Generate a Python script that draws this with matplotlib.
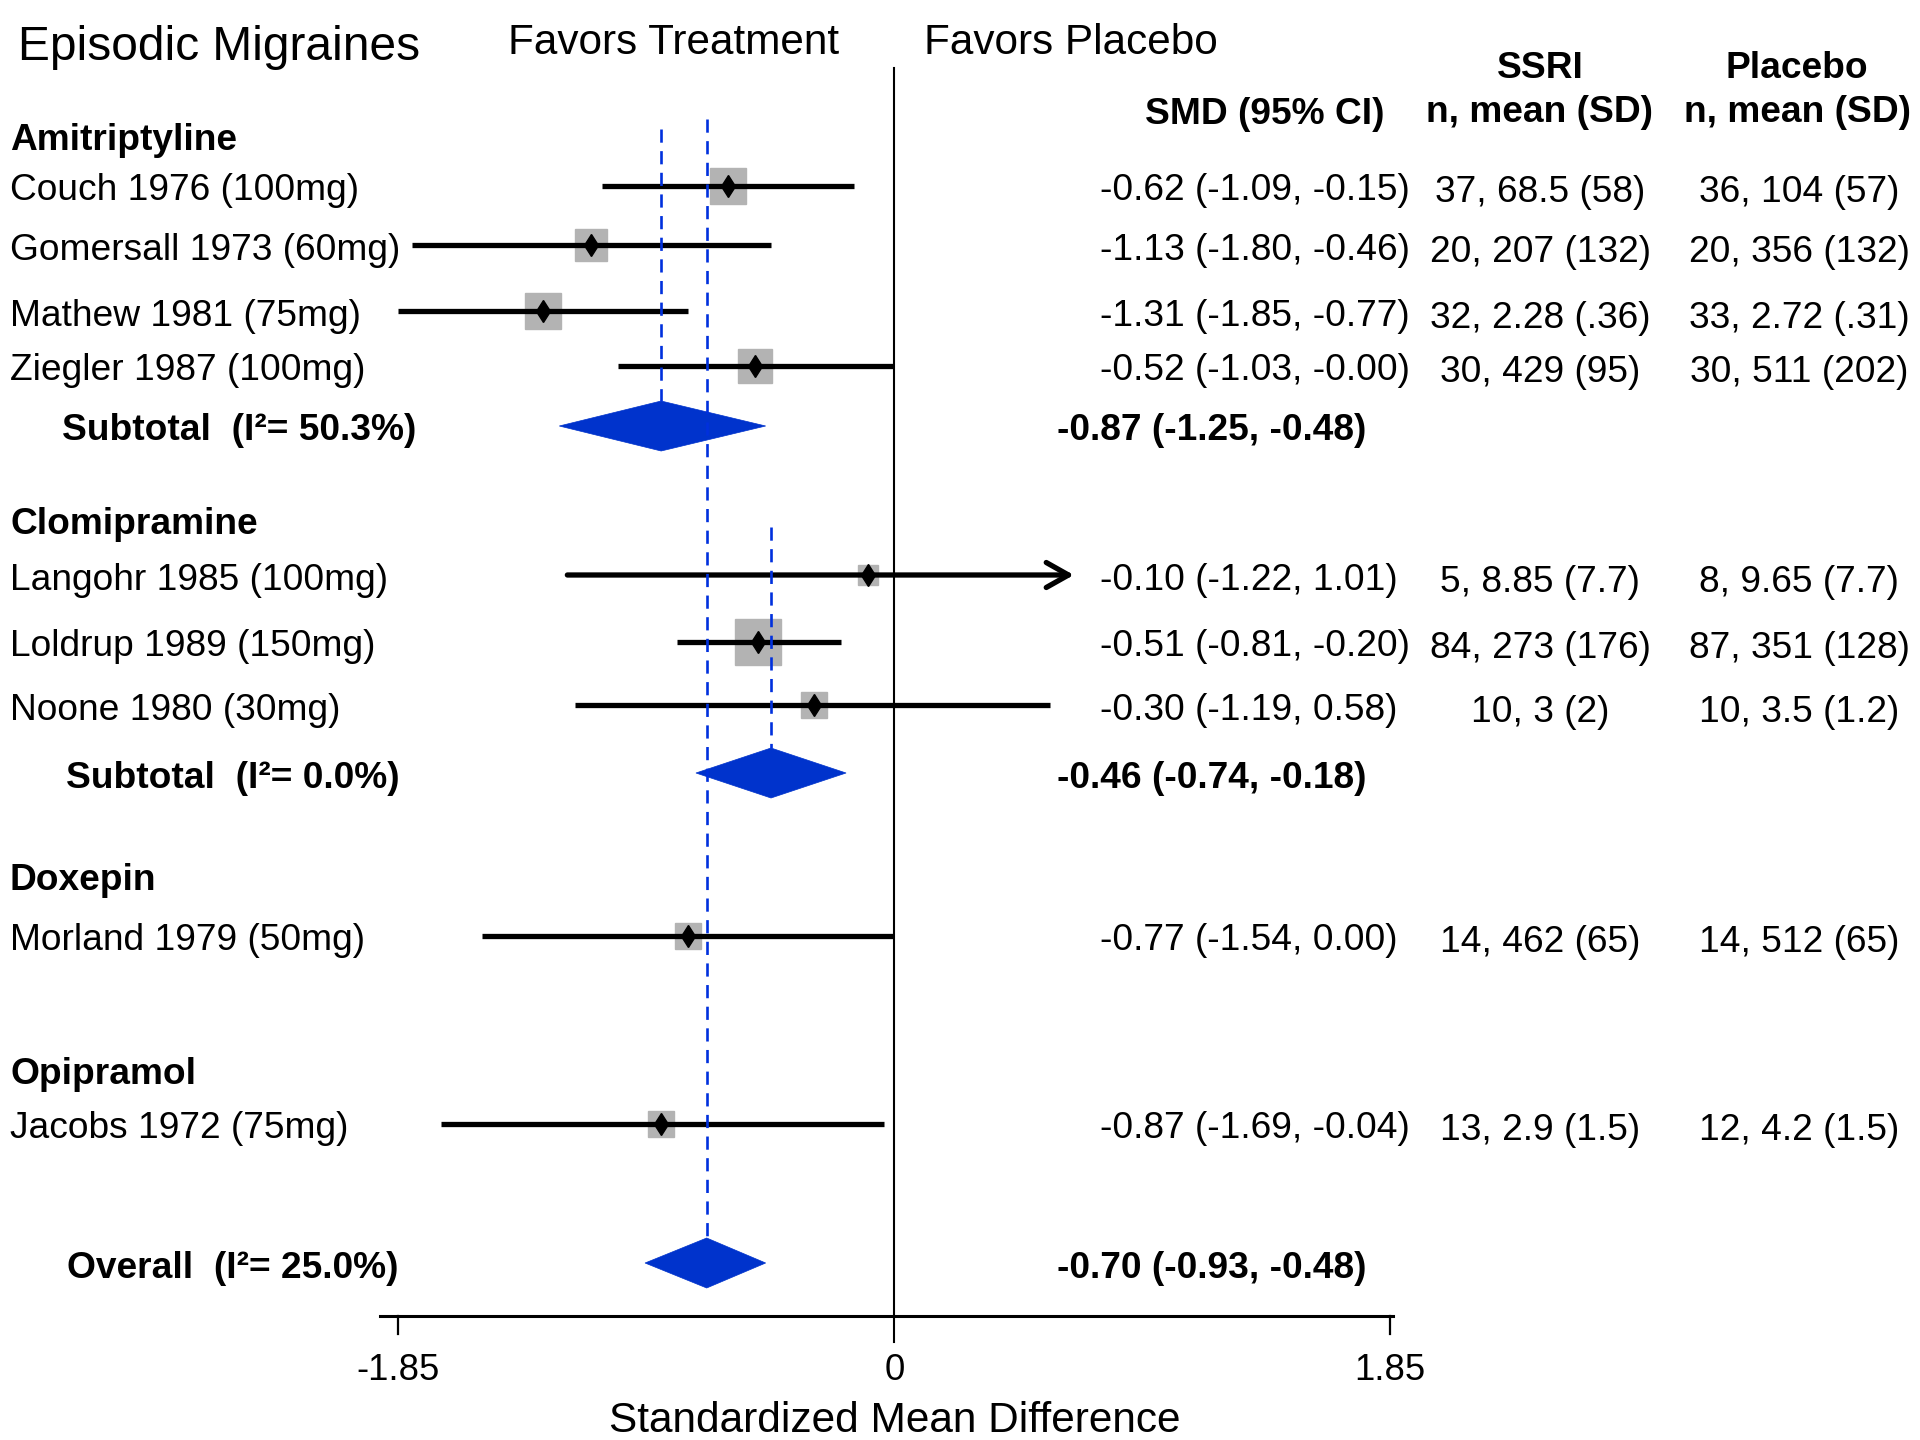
import matplotlib
matplotlib.use("Agg")
import matplotlib.pyplot as plt
from matplotlib import transforms
from matplotlib.patches import Polygon
import numpy as np

plt.rcParams['font.family'] = ['Liberation Sans', 'DejaVu Sans']

# ---------------- data ----------------
groups = ["Amitriptyline", "Clomipramine", "Doxepin", "Opipramol"]

studies = ["Couch 1976 (100mg)", "Gomersall 1973 (60mg)", "Mathew 1981 (75mg)",
           "Ziegler 1987 (100mg)", "Langohr 1985 (100mg)", "Loldrup 1989 (150mg)",
           "Noone 1980 (30mg)", "Morland 1979 (50mg)", "Jacobs 1972 (75mg)"]
study_group = [0, 0, 0, 0, 1, 1, 1, 2, 3]
smd = [-0.62, -1.13, -1.31, -0.52, -0.10, -0.51, -0.30, -0.77, -0.87]
ci_lo = [-1.09, -1.80, -1.85, -1.03, -1.22, -0.81, -1.19, -1.54, -1.69]
ci_hi = [-0.15, -0.46, -0.77, -0.00, 1.01, -0.20, 0.58, 0.00, -0.04]
weights = [14.6, 10.3, 13.8, 12.3, 4.7, 22.6, 7.2, 7.2, 7.2]
ssri_txt = ["37, 68.5 (58)", "20, 207 (132)", "32, 2.28 (.36)", "30, 429 (95)",
            "5, 8.85 (7.7)", "84, 273 (176)", "10, 3 (2)", "14, 462 (65)",
            "13, 2.9 (1.5)"]
placebo_txt = ["36, 104 (57)", "20, 356 (132)", "33, 2.72 (.31)", "30, 511 (202)",
               "8, 9.65 (7.7)", "87, 351 (128)", "10, 3.5 (1.2)", "14, 512 (65)",
               "12, 4.2 (1.5)"]

pooled_labels = ["Subtotal  (I\u00b2= 50.3%)", "Subtotal  (I\u00b2= 0.0%)",
                 "Overall  (I\u00b2= 25.0%)"]
pooled_est = [-0.87, -0.46, -0.70]
pooled_lo = [-1.25, -0.74, -0.93]
pooled_hi = [-0.48, -0.18, -0.48]

x_ticks = [-1.85, 0, 1.85]
x_ticklabels = ["-1.85", "0", "1.85"]
ci_clip_hi = 0.67   # right-hand display bound for confidence intervals

# ---------------- layout (figure pixels, top = 0) ----------------
group_rows = [136, 520, 876, 1070]
study_rows = [186, 245, 311, 366, 575, 642, 705, 936, 1124]
pooled_rows = [426, 773, 1263]
pooled_label_x = [62, 66, 67]
dash_tops = [129, 527, 119]
axis_y = 1316
TXT_DY = 5          # text centre sits a little below the row line

W, H = 1920, 1440
x0_px, unit_px = 894.3, 268.0

fig = plt.figure(figsize=(19.2, 14.4), dpi=100)
ax = fig.add_axes([0, 0, 1, 1])
ax.set_xlim(-x0_px / unit_px, (W - x0_px) / unit_px)
ax.set_ylim(H, 0)
ax.axis("off")

col = transforms.blended_transform_factory(fig.transFigure, ax.transData)

FS = 26.7
BLUE = "#0033cc"

def ctext(xpx, y, s, **kw):
    ax.text(xpx / W, y + TXT_DY, s, transform=col, va="center",
            fontsize=kw.pop("fontsize", FS), **kw)

# headers
ctext(18, 43, "Episodic Migraines", fontsize=34.5, ha="left")
ctext(508, 38, "Favors Treatment", fontsize=30.4, ha="left")
ctext(924, 38, "Favors Placebo", fontsize=30.4, ha="left")
ctext(1540, 64, "SSRI", ha="center", fontweight="bold")
ctext(1797, 64, "Placebo", ha="center", fontweight="bold")
ctext(1145, 109, "SMD (95% CI)", ha="left", fontweight="bold")
ctext(1540, 107, "n, mean (SD)", ha="center", fontweight="bold")
ctext(1797, 107, "n, mean (SD)", ha="center", fontweight="bold")

for g, y in zip(groups, group_rows):
    ctext(10, y, g, ha="left", fontweight="bold")

# zero line
ax.plot([0, 0], [68, 1342], color="black", lw=1.5, zorder=1)

# study rows
for i, name in enumerate(studies):
    y = study_rows[i]
    ctext(10, y, name, ha="left")
    ctext(1100, y, f"{smd[i]:.2f} ({ci_lo[i]:.2f}, {ci_hi[i]:.2f})", ha="left")
    ctext(1540, y + 2, ssri_txt[i], ha="center")
    ctext(1799, y + 2, placebo_txt[i], ha="center")

    side_px = 9.68 * np.sqrt(weights[i])
    ax.plot(smd[i], y, marker="s", ms=side_px * 0.72, color="#b3b3b3",
            mec="#b3b3b3", zorder=2)
    hi = min(ci_hi[i], ci_clip_hi)
    if ci_hi[i] > ci_clip_hi:
        ax.annotate("", xy=(hi, y), xytext=(ci_lo[i], y),
                    arrowprops=dict(arrowstyle="->,head_length=0.8,head_width=0.45",
                                    lw=3.8, color="black", shrinkA=0, shrinkB=0,
                                    mutation_scale=20), zorder=3)
    else:
        ax.plot([ci_lo[i], hi], [y, y], color="black", lw=3.8,
                solid_capstyle="butt", zorder=3)
    ax.plot(smd[i], y, marker="d", ms=11.5, color="black", zorder=5)

# pooled estimates
half_h = 25
for j, lab in enumerate(pooled_labels):
    y = pooled_rows[j]
    ctext(pooled_label_x[j], y, lab, ha="left", fontweight="bold")
    ctext(1057, y, f"{pooled_est[j]:.2f} ({pooled_lo[j]:.2f}, {pooled_hi[j]:.2f})",
          ha="left", fontweight="bold")
    poly = Polygon([[pooled_lo[j], y], [pooled_est[j], y - half_h],
                    [pooled_hi[j], y], [pooled_est[j], y + half_h]],
                   closed=True, facecolor=BLUE, edgecolor=BLUE, lw=0.5, zorder=2)
    ax.add_patch(poly)
    ax.plot([pooled_est[j], pooled_est[j]], [dash_tops[j], y - half_h],
            color="#0030dd", lw=1.9, dashes=(5, 3.2), zorder=4)

# x axis
ax.plot([x_ticks[0] - 0.07, x_ticks[-1] + 0.01], [axis_y, axis_y],
        color="black", lw=2.2, zorder=1)
for t, tl in zip(x_ticks, x_ticklabels):
    if t != 0:
        ax.plot([t, t], [axis_y, axis_y + 18], color="black", lw=1.6)
    ax.text(t, 1371, tl, ha="center", va="center", fontsize=26.3)
ax.text(0, 1421, "Standardized Mean Difference", ha="center", va="center",
        fontsize=30.5)

fig.savefig("out.png", dpi=100, facecolor="white")
